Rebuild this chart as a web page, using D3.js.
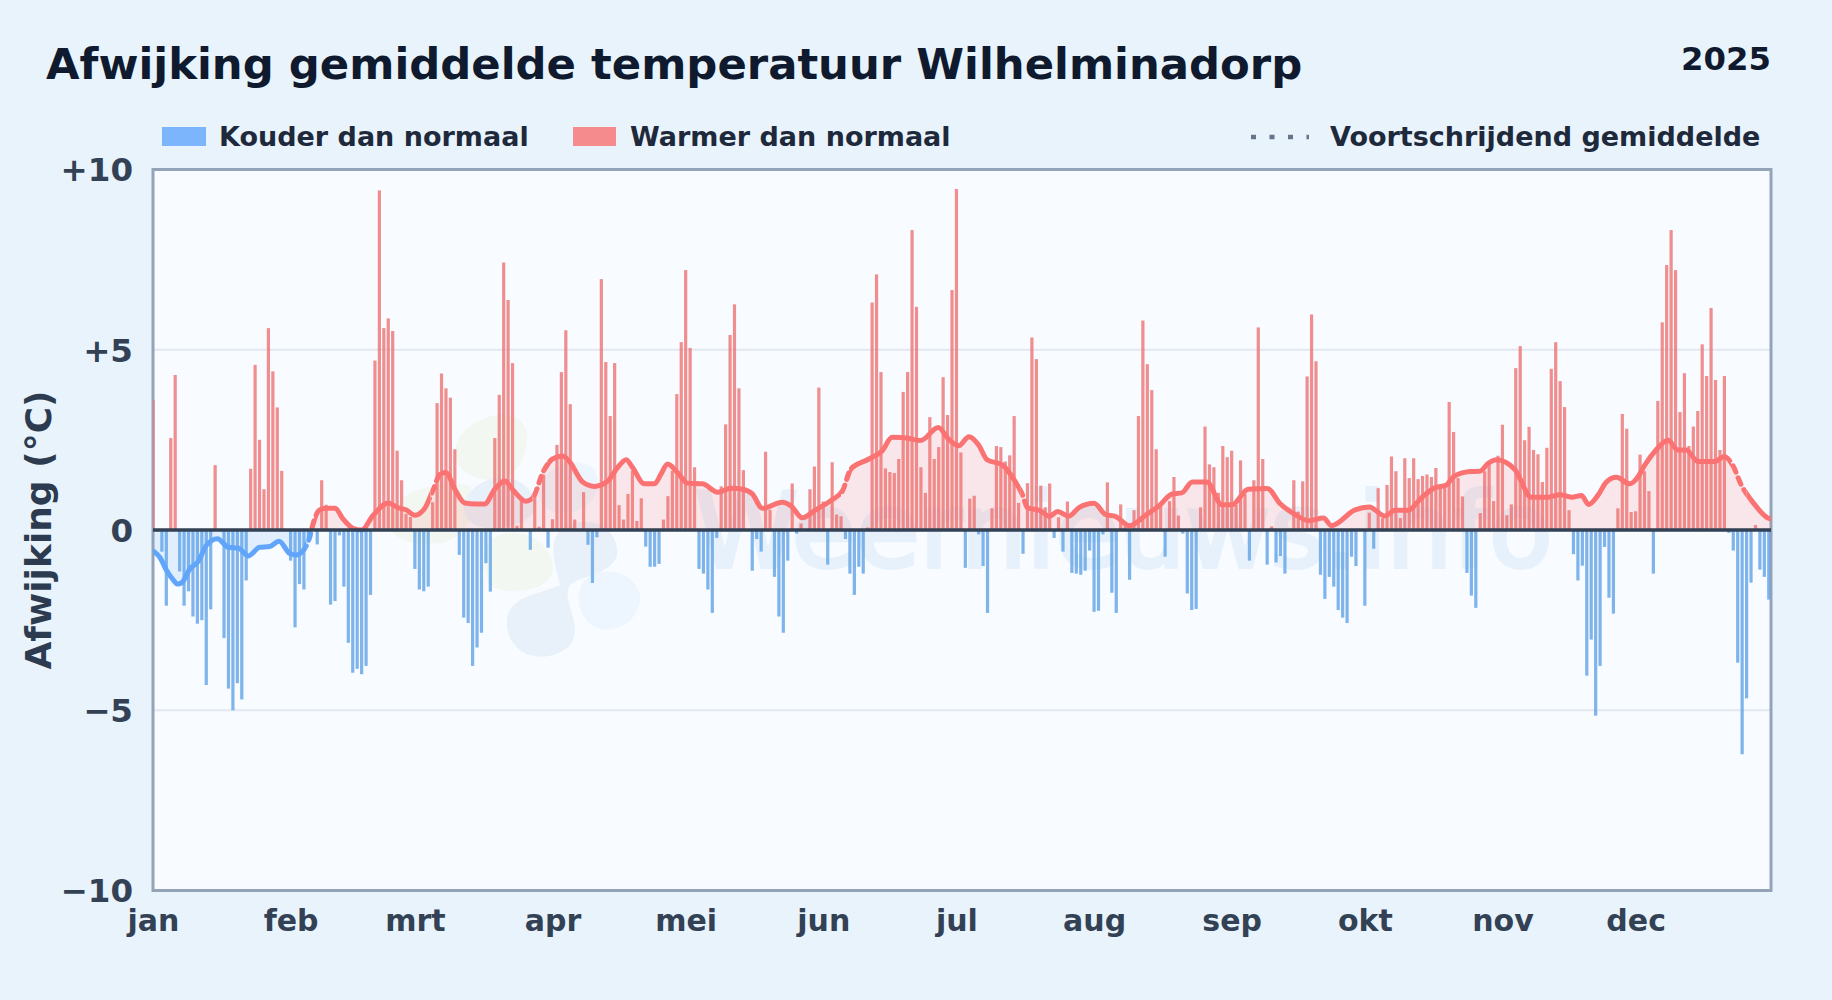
<!DOCTYPE html>
<html>
<head>
<meta charset="utf-8">
<script src="https://cdn.jsdelivr.net/npm/d3@7"></script>
<style>
    html, body { margin: 0; padding: 0; background: #e8f3fc; }
    svg { display: block; }
    text { font-family: "DejaVu Sans", sans-serif; font-weight: bold; }
</style>
</head>
<body>
<div id="chart"></div>
<script>
// deviation per day of the year
var deviation = [
    3.6,-0.05,-0.6,-2.1,2.55,4.3,-1.15,-2.1,-1.7,-2.4,
    -2.6,-2.5,-4.3,-2.2,1.8,0,-3.0,-4.4,-5.0,-4.25,
    -4.7,-1.4,1.7,4.58,2.5,1.13,5.6,4.4,3.4,1.64,
    0,-0.85,-2.7,-1.5,-1.65,-0.3,0.1,-0.4,1.38,0.7,
    -2.07,-1.97,-0.15,-1.57,-3.13,-3.96,-3.85,-4.0,-3.77,-1.8,
    4.7,9.42,5.6,5.87,5.52,2.2,1.38,0.45,0.36,-1.08,
    -1.65,-1.7,-1.57,0.77,3.52,4.34,3.93,3.67,2.24,-0.69,
    -2.43,-2.58,-3.77,-3.26,-2.85,-0.92,-1.71,2.55,3.75,7.42,
    6.38,4.63,0.12,0.84,0,-0.55,0.97,0.09,1.53,-0.49,
    0.3,2.36,4.38,5.54,3.49,0.29,0,1.05,-0.41,-1.47,
    -0.2,6.96,4.66,3.16,4.63,0.69,0.29,1.0,1.64,0.25,
    0.88,-0.46,-1.02,-1.02,-0.94,0.29,0.94,1.64,3.77,5.21,
    7.21,5.05,1.74,-1.08,-1.21,-1.65,-2.3,-0.22,1.21,2.93,
    5.41,6.26,3.93,1.66,0,-1.13,-0.25,-0.6,2.17,0.56,
    -1.3,-2.4,-2.85,-0.85,1.29,-0.1,0.18,0,1.13,1.76,
    3.95,0.79,-0.96,1.88,0.43,0.38,-0.25,-1.21,-1.8,-1.02,
    -1.21,0.07,6.31,7.09,4.38,1.71,1.61,1.58,1.97,3.83,
    4.38,8.32,6.19,1.74,1.03,3.13,1.97,2.3,4.24,3.19,
    6.66,9.46,2.15,-1.05,0.87,0.95,-0.12,-1.0,-2.3,0.6,
    2.33,2.3,1.9,2.07,3.16,0.75,-0.66,1.3,5.34,4.74,
    1.23,0.63,1.29,-0.22,0.35,-0.6,0.79,-1.19,-1.21,-1.24,
    -1.13,-0.57,-2.27,-2.24,-0.12,1.32,-1.74,-2.3,0.71,0.1,
    -1.38,0.55,3.16,5.81,4.6,3.88,2.24,0.67,-0.74,0.8,
    1.47,0.4,-0.1,-1.76,-2.22,-2.19,0.63,2.87,1.82,1.74,
    1.03,2.33,2.02,2.2,0.7,1.93,1.0,-0.85,1.38,5.62,
    1.97,-0.96,0.1,-0.9,-0.72,-1.21,0,1.38,0.51,1.35,
    4.26,5.98,4.68,-1.24,-1.91,-1.3,-1.57,-2.22,-2.43,-2.58,
    -0.74,-1.0,0,-2.1,0.48,-0.52,1.16,0.33,1.25,2.04,
    1.63,0.33,1.99,1.44,1.99,1.41,1.5,1.54,1.47,1.72,
    1.27,1.25,3.55,2.72,1.44,0.93,-1.19,-1.82,-2.16,0.47,
    1.63,1.85,0.8,2.06,2.92,0.41,0.71,4.49,5.1,2.49,
    2.86,2.22,2.1,1.33,2.28,4.47,5.21,4.13,3.41,0.55,
    -0.67,-1.4,-0.99,-4.04,-3.04,-5.15,-3.77,-0.47,-1.88,-2.32,
    0.6,3.22,2.81,0.5,0.52,2.09,1.63,1.08,-1.21,3.58,
    5.76,7.35,8.32,7.21,3.27,4.35,2.33,2.87,3.3,5.15,
    4.27,6.16,4.16,2.22,4.27,-0.08,-0.57,-3.68,-6.22,-4.67,
    -1.46,0.14,-1.1,-1.3,-1.93
];

// moving average, read at the bends of the curve
var avgDays = [0,1.6,3,4.6,5.5,6.5,8.3,10.2,12,14.5,17,19.2,21.5,24,26.3,28.4,30.8,32.3,34.2,35.3,36,37.6,39,41,42.8,45,47,49.6,53,55.2,57,59,61.2,63,65,66,68,70.2,72.8,74.7,77,79.2,81.3,84,85.4,88,90,92.3,93.8,96.8,99.4,102.4,104.7,106.6,108,110.7,113,114.4,115.9,118.2,120.4,123.8,127.2,130.2,132.8,135,137.3,141.8,143.7,146.3,149.3,153,155.3,157.2,161.3,164.3,166.5,169.9,172.9,176.9,179.3,181.5,183.8,186,187.9,191.4,194,195.9,197,200,201.9,203.8,206.3,208.6,212,214.6,216.8,220,223.6,226.6,229.6,231.8,234.1,237.4,240.8,243.1,246.7,251,254,257.3,260.3,263.7,265.5,270.8,274,277.5,279.8,282.8,285.8,288.8,291.4,292.9,296.7,298.9,300.8,302.7,306.8,310.5,314.3,316.9,319.6,321.8,323.4,325.5,327.4,329.7,332.7,334.5,336,338.6,341.3,343.5,345.4,348,351.8,354,355.9,357.8,360.8,363.8,364.5];
var avgValues = [-0.58,-0.77,-1.11,-1.39,-1.5,-1.46,-1.08,-0.87,-0.43,-0.24,-0.48,-0.5,-0.72,-0.48,-0.46,-0.31,-0.65,-0.69,-0.51,-0.2,0.15,0.56,0.6,0.6,0.31,0.05,0,0.41,0.75,0.62,0.56,0.41,0.6,1.08,1.59,1.59,1.13,0.75,0.72,0.72,1.13,1.36,1.08,0.8,0.87,1.64,1.97,2.05,1.9,1.33,1.21,1.35,1.74,1.95,1.74,1.28,1.28,1.54,1.83,1.59,1.3,1.28,1.05,1.16,1.13,1.0,0.6,0.77,0.67,0.34,0.56,0.84,1.08,1.69,1.97,2.2,2.57,2.55,2.48,2.84,2.51,2.34,2.59,2.36,1.95,1.8,1.39,0.97,0.62,0.53,0.38,0.51,0.38,0.62,0.74,0.43,0.38,0.12,0.41,0.67,1.0,1.03,1.33,1.33,0.7,0.7,1.13,1.15,0.72,0.43,0.26,0.33,0.12,0.56,0.64,0.39,0.55,0.55,0.9,1.17,1.25,1.47,1.62,1.63,1.85,1.95,1.68,0.91,0.91,0.98,0.91,0.96,0.71,0.96,1.33,1.46,1.28,1.47,1.79,2.22,2.49,2.22,2.22,1.9,1.9,2.04,1.79,1.25,0.71,0.33,0.3];
// stretches where the curve is drawn broken
var brokenFrom = [34.5,62.5,85.5,155,195.5,355.5];
var brokenTo = [37,65.5,89.5,157.5,197.5,359];

var monthStart = [0,31,59,90,120,151,181,212,243,273,304,334];
var monthNames = ['jan','feb','mrt','apr','mei','jun','jul','aug','sep','okt','nov','dec'];
var yTicks = [10,5,0,-5,-10];
var yTickNames = ['+10','+5','0','\u22125','\u221210'];

var width = 1832, height = 1000;
var left = 153, right = 1771, top_ = 169.5, bottom = 890.5;

var x = d3.scaleLinear().domain([0,364.5]).range([left,right]);
var y = d3.scaleLinear().domain([-10,10]).range([bottom,top_]);

var svg = d3.select('#chart').append('svg').attr('width',width).attr('height',height);
var defs = svg.append('defs');

function clip(id,x0,y0,w,h){
    defs.append('clipPath').attr('id',id).append('rect').attr('x',x0).attr('y',y0).attr('width',w).attr('height',h);
}
clip('plot',left,top_,right-left,bottom-top_);
clip('above',left,top_,right-left,y(0)-top_);
clip('below',left,y(0),right-left,bottom-y(0));
clip('linetop',left,top_,right-left,y(0)-top_+1);
clip('linebot',left,y(0)-1,right-left,bottom-y(0));

// solid parts = everything between the broken stretches
var solidClip = defs.append('clipPath').attr('id','solid');
var brokenClip = defs.append('clipPath').attr('id','broken');
var start = 0;
brokenFrom.forEach(function(d,i){
    solidClip.append('rect').attr('x',x(start)-3).attr('y',top_).attr('width',x(d)-x(start)+3).attr('height',bottom-top_);
    brokenClip.append('rect').attr('x',x(d)).attr('y',top_).attr('width',x(brokenTo[i])-x(d)).attr('height',bottom-top_);
    start = brokenTo[i];
});
solidClip.append('rect').attr('x',x(start)).attr('y',top_).attr('width',right-x(start)+3).attr('height',bottom-top_);

// plot background
svg.append('rect').attr('x',left).attr('y',top_).attr('width',right-left).attr('height',bottom-top_).attr('fill','#f8fbff');

// watermark
var mark = svg.append('g').attr('clip-path','url(#plot)');
var blobs = [
    {fill:'#f2f8f1', d:'M458,440 C470,418 505,408 520,420 C535,432 525,470 505,478 C480,486 445,470 458,440 Z'},
    {fill:'#f2f8f1', d:'M390,510 C400,490 450,478 470,486 C480,510 465,540 440,543 C410,548 378,535 390,510 Z'},
    {fill:'#f2f8f1', d:'M500,535 C530,525 555,550 553,570 C550,590 510,598 490,585 C480,565 482,542 500,535 Z'},
    {fill:'#e8f1f9', d:'M465,500 C480,470 525,470 535,500 C540,520 510,530 485,528 C470,526 460,515 465,500 Z'},
    {fill:'#e8f1f9', d:'M560,530 C590,510 620,530 617,555 C612,575 580,575 570,585 C560,600 585,625 570,645 C550,665 510,660 507,625 C505,595 540,595 560,585 C555,565 548,545 560,530 Z'},
    {fill:'#edf6fe', d:'M585,580 C600,565 635,570 640,595 C642,620 615,635 598,628 C580,622 572,595 585,580 Z'},
    {fill:'#edf6fe', d:'M540,490 C545,462 580,455 595,470 C605,490 590,512 565,513 C548,513 535,505 540,490 Z'}
];
mark.selectAll('path').data(blobs).enter().append('path').attr('d',function(d){return d.d;}).attr('fill',function(d){return d.fill;});
mark.append('text').text('Weernieuws.info').attr('x',695).attr('y',567)
    .attr('font-size',104).style('font-weight','normal').attr('fill','#e7f1fb')
    .attr('stroke','#e7f1fb').attr('stroke-width',4);

// grid
svg.append('g').selectAll('line').data([5,-5]).enter().append('line')
    .attr('x1',left).attr('x2',right).attr('y1',d => y(d)).attr('y2',d => y(d))
    .attr('stroke','#e2e8f0').attr('stroke-width',2);

// frame goes under the bars, the first and last bar sit on top of it
svg.append('rect').attr('x',left).attr('y',top_).attr('width',right-left).attr('height',bottom-top_)
    .attr('fill','none').attr('stroke','#94a3b8').attr('stroke-width',3);

// daily bars
svg.append('g').attr('clip-path','url(#plot)').selectAll('rect').data(deviation).enter().append('rect')
    .attr('x',(d,i) => x(i)-1.6)
    .attr('width',3.2)
    .attr('y',d => d > 0 ? y(d) : y(0))
    .attr('height',d => Math.abs(y(d)-y(0)))
    .attr('fill',d => d > 0 ? '#ed7272' : '#5fa2e6')
    .attr('opacity',.8);

// moving average: same curve twice, cut at zero for the two colours
var avg = avgDays.map((d,i) => ({day:d,value:avgValues[i]}));
var line = d3.line().x(d => x(d.day)).y(d => y(d.value)).curve(d3.curveMonotoneX);
var area = d3.area().x(d => x(d.day)).y0(y(0)).y1(d => y(d.value)).curve(d3.curveMonotoneX);

[{id:'above',color:'#f87171'},{id:'below',color:'#60a5fa'}].forEach(function(s){
    var g = svg.append('g').attr('clip-path','url(#'+s.id+')');
    g.append('path').attr('d',area(avg)).attr('fill',s.color).attr('opacity',.15);
});

[{id:'linetop',color:'#fb7272'},{id:'linebot',color:'#60a5fa'}].forEach(function(s){
    var g = svg.append('g').attr('clip-path','url(#'+s.id+')');
    g.append('g').attr('clip-path','url(#solid)').append('path').attr('d',line(avg))
        .attr('fill','none').attr('stroke',s.color).attr('stroke-width',5).attr('stroke-linejoin','round');
    g.append('g').attr('clip-path','url(#broken)').append('path').attr('d',line(avg))
        .attr('fill','none').attr('stroke',s.color).attr('stroke-width',5)
        .attr('stroke-linecap','round').attr('stroke-dasharray','7 6');
});

// zero line
svg.append('line').attr('x1',left).attr('x2',right).attr('y1',y(0)).attr('y2',y(0))
    .attr('stroke','#334155').attr('stroke-width',3.5);

// axes
var yAxis = d3.axisLeft(y).tickValues(yTicks).tickSize(0).tickPadding(20)
    .tickFormat((d,i) => yTickNames[i]);
var yg = svg.append('g').attr('transform',`translate(${left},1)`).call(yAxis);
yg.select('.domain').remove();
yg.selectAll('text').attr('font-size',32.5).attr('fill','#334155');

var xAxis = d3.axisBottom(x).tickValues(monthStart).tickSize(0).tickPadding(19)
    .tickFormat((d,i) => monthNames[i]);
var xg = svg.append('g').attr('transform',`translate(0,${bottom})`).call(xAxis);
xg.select('.domain').remove();
xg.selectAll('text').attr('font-size',30).attr('fill','#334155');

svg.append('text').text('Afwijking (°C)').attr('transform',`translate(51,${y(0)}) rotate(-90)`)
    .attr('text-anchor','middle').attr('font-size',36).attr('fill','#2d3b50');

// titles
svg.append('text').text('Afwijking gemiddelde temperatuur Wilhelminadorp').attr('x',46).attr('y',79)
    .attr('font-size',43.35).attr('fill','#0f1a2e');
svg.append('text').text('2025').attr('x',1771).attr('y',70).attr('text-anchor','end')
    .attr('font-size',32.3).attr('fill','#0f1a2e');

// legend
var legend = svg.append('g');
legend.append('rect').attr('x',162).attr('y',127).attr('width',44).attr('height',19).attr('fill','#60a5fa').attr('opacity',.8);
legend.append('text').text('Kouder dan normaal').attr('x',219).attr('y',146).attr('font-size',27).attr('fill','#1e293b');
legend.append('rect').attr('x',573).attr('y',127).attr('width',43).attr('height',19).attr('fill','#f87171').attr('opacity',.8);
legend.append('text').text('Warmer dan normaal').attr('x',630).attr('y',146).attr('font-size',27).attr('fill','#1e293b');
legend.append('line').attr('x1',1251).attr('x2',1309).attr('y1',137).attr('y2',137)
    .attr('stroke','#64748b').attr('stroke-width',4.5).attr('stroke-dasharray','5 13.5');
legend.append('text').text('Voortschrijdend gemiddelde').attr('x',1330).attr('y',146).attr('font-size',27).attr('fill','#1e293b');
</script>
</body>
</html>
